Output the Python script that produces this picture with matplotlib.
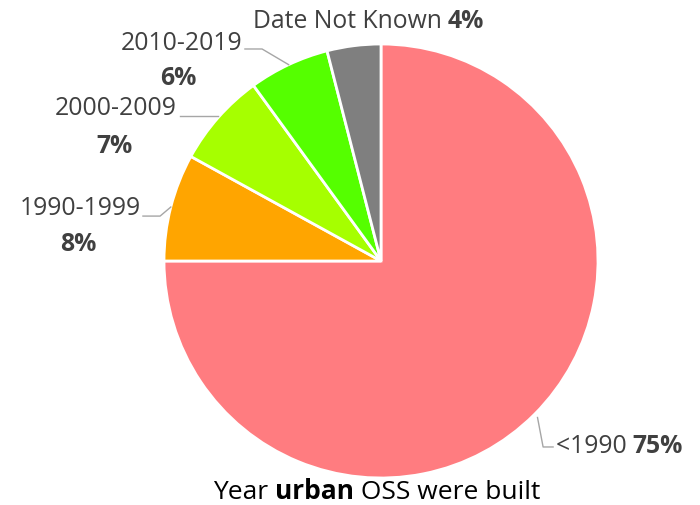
import numpy as np
import matplotlib
matplotlib.use("Agg")
import matplotlib.pyplot as plt

# data
categories = ["<1990", "1990-1999", "2000-2009", "2010-2019", "Date Not Known"]
shares     = [75, 8, 7, 6, 4]
colors     = ["#FF7C80", "#FFA500", "#A6FF00", "#55FF00", "#7F7F7F"]
title_parts = ["Year ", "urban", " OSS were built"]

plt.rcParams['font.family'] = ['Open Sans', 'DejaVu Sans']
TXT  = "#404040"
LINE = "#A6A6A6"
FS   = 17.8
TFS  = 19

fig = plt.figure(figsize=(7.0, 5.06), dpi=100)
cx, cy, r = 381/700, (506-262)/506, 217
ax = fig.add_axes([cx - r/700, cy - r/506, 2*r/700, 2*r/506])
wedges, _ = ax.pie(shares, colors=colors, startangle=90, counterclock=False,
                   radius=1.0, wedgeprops=dict(edgecolor="white", linewidth=2))
ax.set_xlim(-1, 1)
ax.set_ylim(-1, 1)
ax.set_aspect("equal")
ax.axis("off")


def edge_point(w, rr=1.0):
    a = np.deg2rad((w.theta1 + w.theta2) / 2)
    return rr*np.cos(a), rr*np.sin(a)


def two_part(x, y, name, pct, ha="left"):
    t = ax.text(x, y, name + " ", color=TXT, fontsize=FS, ha=ha, va="bottom")
    ax.annotate(pct, xy=(1, 0), xycoords=t, color=TXT, fontsize=FS,
                fontweight="bold", ha="left", va="bottom")


def stacked(xr, y, name, pct, xp, yp):
    ax.text(xr, y, name, color=TXT, fontsize=FS, ha="right", va="center")
    ax.text(xp, yp, pct, color=TXT, fontsize=FS, fontweight="bold",
            ha="center", va="center")


pcts = [f"{v}%" for v in shares]

# <1990
ex, ey = edge_point(wedges[0], 1.02)
ax.plot([ex, 0.747, 0.793], [ey, -0.857, -0.857], color=LINE, lw=1, clip_on=False)
two_part(0.805, -0.91, categories[0], pcts[0])

# 1990-1999
ex, ey = edge_point(wedges[1])
ax.plot([ex, -1.018, -1.097], [ey, 0.207, 0.207], color=LINE, lw=1, clip_on=False)
stacked(-1.108, 0.245, categories[1], pcts[1], -1.396, 0.08)

# 2000-2009
ex, ey = edge_point(wedges[2])
ax.plot([ex, -0.926], [0.668, 0.668], color=LINE, lw=1, clip_on=False)
stacked(-0.942, 0.706, categories[2], pcts[2], -1.226, 0.532)

# 2010-2019
ex, ey = edge_point(wedges[3])
ax.plot([ex, -0.548, -0.627], [ey, 0.977, 0.977], color=LINE, lw=1, clip_on=False)
stacked(-0.638, 1.008, categories[3], pcts[3], -0.935, 0.845)

# Date Not Known
two_part(-0.592, 1.052, categories[4], pcts[4])

# title
t1 = fig.text(213/700, 13/506, title_parts[0], fontsize=TFS, color="black", va="center")
a2 = ax.annotate(title_parts[1], xy=(1, 0), xycoords=t1, fontsize=TFS,
                 fontweight="bold", color="black", ha="left", va="bottom",
                 annotation_clip=False)
ax.annotate(title_parts[2], xy=(1, 0), xycoords=a2, fontsize=TFS,
            color="black", ha="left", va="bottom", annotation_clip=False)

fig.savefig("out.png", dpi=100)
